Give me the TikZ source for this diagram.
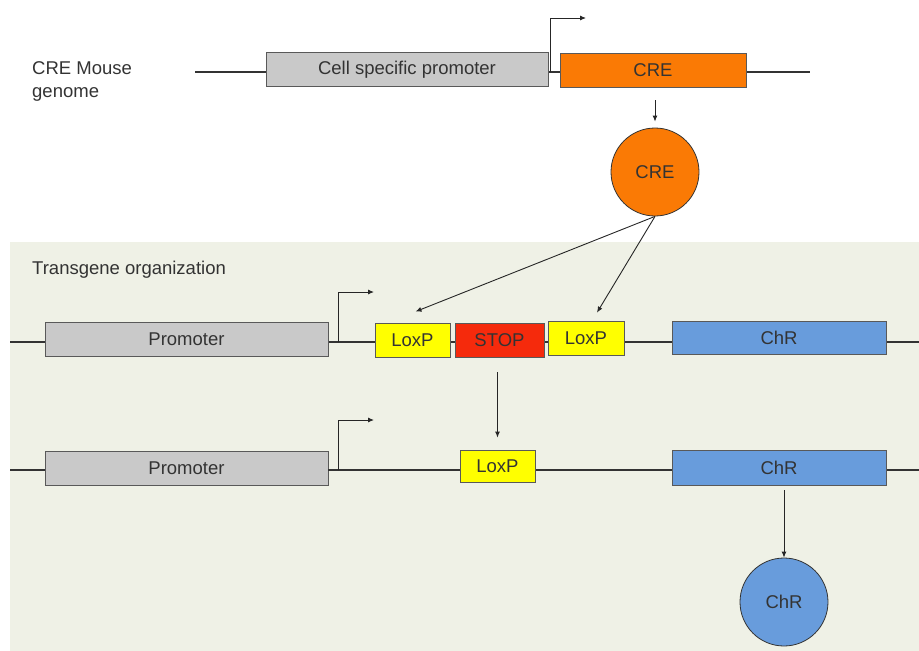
\documentclass[tikz,border=0pt]{standalone}
\usepackage{fontspec}
\setmainfont{Liberation Sans}
\usetikzlibrary{arrows.meta}
\definecolor{bgcol}{RGB}{239,241,230}
\definecolor{boxgrey}{RGB}{201,201,201}
\definecolor{creorange}{RGB}{250,122,5}
\definecolor{loxyellow}{RGB}{255,255,0}
\definecolor{stopred}{RGB}{245,42,12}
\definecolor{chrblue}{RGB}{104,156,220}
\tikzset{
  txt/.style={font=\fontsize{18.5}{23}\selectfont, text=black!80},
  gene/.style={txt, draw=black!65, line width=.8pt, inner sep=0pt, minimum height=34pt},
  prot/.style={txt, circle, draw=black!80, line width=.8pt, inner sep=0pt, minimum size=88pt},
  dna/.style={line width=1.4pt, black!80},
  arr/.style={-{Latex[length=6pt,width=5pt]}, line width=.9pt, black!85}
}
\begin{document}
\begin{tikzpicture}[x=1pt,y=-1pt]
\useasboundingbox (0,0) rectangle (919,651);
\fill [bgcol] (10,242) rectangle (919,651);

% mouse line
\node [txt, align=left, anchor=west, inner sep=0pt] (mouse) at (32,81.5) {CRE Mouse\\genome};
\coordinate (m1) at (195,72);
\coordinate (m2) at (810,72);
\draw [dna] (m1) -- (m2);
\node [gene, fill=boxgrey, minimum width=282pt] (csp) at (407,69.5) {Cell specific promoter};
\node [gene, fill=creorange, minimum width=186pt] (cre) at (653,70) {CRE};
\coordinate (tss) at (550,72);
\coordinate (tsse) at (586,18);
\draw [arr] (tss) |- (tsse);
\node [prot, fill=creorange] (crep) at (655,172) {CRE};
\draw [arr] (crep.north |- cre.south) ++(0,13) -- ([yshift=6pt]crep.north);

% transgene
\node [txt, anchor=west, inner sep=0pt] (tg) at (32,270) {Transgene organization};
\coordinate (a1) at (10,342);
\coordinate (a2) at (919,342);
\draw [dna] (a1) -- (a2);
\node [gene, fill=boxgrey, minimum width=283pt] (proma) at (186.5,339) {Promoter};
\coordinate (tssa) at (338,342);
\coordinate (tssae) at (374,292);
\draw [arr] (tssa) |- (tssae);
\node [gene, fill=loxyellow, minimum width=75pt] (loxa) at (412.5,340) {LoxP};
\node [gene, fill=stopred, minimum width=89pt] (stop) at (499.5,340) {STOP};
\node [gene, fill=loxyellow, minimum width=76pt] (loxb) at (586,338) {LoxP};
\node [gene, fill=chrblue, minimum width=214pt, minimum height=33pt] (chra) at (779,337.5) {ChR};
\draw [arr] (crep.south) -- ([xshift=3pt,yshift=11pt]loxa.north);
\draw [arr] (crep.south) -- ([xshift=11pt,yshift=8pt]loxb.north);

% after recombination
\node [gene, fill=boxgrey, minimum width=283pt] (promb) at (186.5,468.5) {Promoter};
\coordinate (b1) at (10,470);
\coordinate (b2) at (919,470);
\draw [dna] (b1) -- (proma.west |- b1);
\draw [dna] (promb.east |- b1) -- (b2);
\coordinate (tssb) at (338,470);
\coordinate (tssbe) at (374,420);
\draw [arr] (tssb) |- (tssbe);
\node [gene, fill=loxyellow, minimum width=75pt, minimum height=32pt] (loxc) at (497.5,466) {LoxP};
\node [gene, fill=chrblue, minimum width=214pt, minimum height=35pt] (chrb) at (779,467.5) {ChR};
\draw [arr] (loxc.north |- stop.south) ++(0,15) -- ([yshift=12pt]loxc.north);
\node [prot, fill=chrblue] (chrp) at (784,602) {ChR};
\draw [arr] (chrp.north |- chrb.south) ++(0,5) -- (chrp.north);
\end{tikzpicture}
\end{document}
